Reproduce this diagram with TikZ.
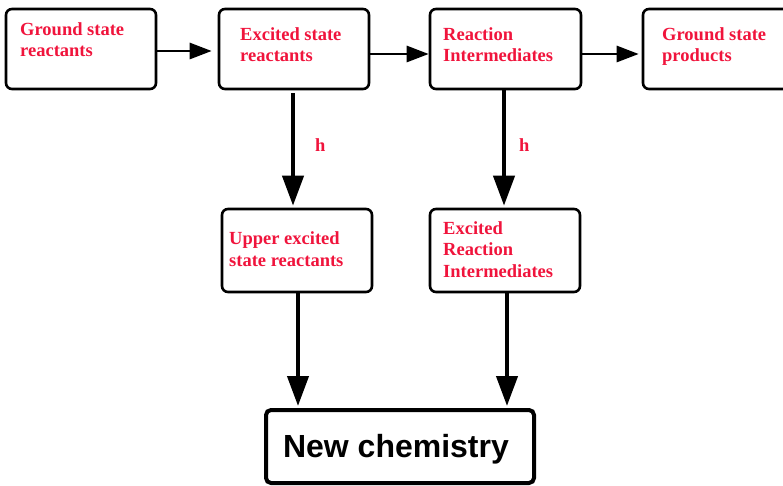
\documentclass[tikz,border=0pt]{standalone}
\usepackage{fontspec}
\setmainfont{Liberation Serif}
\newfontfamily\sansbold{Liberation Sans}
\usetikzlibrary{arrows.meta}
\definecolor{lblred}{RGB}{240,20,60}
\begin{document}
\begin{tikzpicture}[x=1pt,y=-1pt,
  box/.style={draw, line width=2.6pt, rounded corners=6pt, inner sep=0pt},
  bigbox/.style={draw, line width=4pt, rounded corners=5pt, inner sep=0pt},
  lbl/.style={text=lblred, font=\fontsize{18.5}{21.5}\selectfont\bfseries, align=left, anchor=base west, inner sep=0pt},
  harr/.style={line width=2.8pt, -{Triangle[length=22pt,width=16pt]}},
  varr/.style={line width=4.2pt, -{Triangle[length=30pt,width=21pt]}}]
\useasboundingbox (0,0) rectangle (783,486);
% boxes
\node[box, minimum width=150pt, minimum height=80pt] (b1) at (81,49) {};
\node[box, minimum width=150pt, minimum height=80pt] (b2) at (294,49) {};
\node[box, minimum width=151pt, minimum height=80pt] (b3) at (505.5,49) {};
\node[box, minimum width=150pt, minimum height=80pt] (b4) at (718,49) {};
\node[box, minimum width=150pt, minimum height=83pt] (b5) at (297,250.5) {};
\node[box, minimum width=150pt, minimum height=83pt] (b6) at (505,250.5) {};
\node[bigbox, minimum width=268pt, minimum height=73pt] (b7) at (400,446.5) {};
% labels (anchor at the baseline of the last line)
\node[lbl] (t1) at (20,57) {Ground state\\reactants};
\node[lbl] (t2) at (240,62) {Excited state\\reactants};
\node[lbl] (t3) at (443,62) {Reaction\\Intermediates};
\node[lbl] (t4) at (662,62) {Ground state\\products};
\node[lbl] (t5) at (229,266) {Upper excited\\state reactants};
\node[lbl] (t6) at (443,277) {Excited\\Reaction\\Intermediates};
\node[lbl] (h1) at (315,152) {h};
\node[lbl] (h2) at (519,152) {h};
\node[anchor=base, inner sep=0pt, font=\sansbold\fontsize{32}{36}\selectfont\bfseries] (t7) at (396,457) {New chemistry};
% arrows
\draw[harr] (b1.east |- 0,51) -- ([xshift=-6pt]b2.west |- 0,51);
\draw[harr] (b2.east |- 0,54) -- (b3.west |- 0,54);
\draw[harr] (b3.east |- 0,54) -- ([xshift=-3pt]b4.west |- 0,54);
\draw[varr] ([yshift=-3pt]b2.south -| 293,0) -- ([yshift=2pt]b5.north -| 293,0);
\draw[varr] (b3.south -| 504,0) -- ([yshift=2pt]b6.north -| 504,0);
\draw[varr] (b5.south -| 298,0) -- ([yshift=2pt]b7.north -| 298,0);
\draw[varr] (b6.south -| 507,0) -- ([yshift=2pt]b7.north -| 507,0);
\end{tikzpicture}
\end{document}
